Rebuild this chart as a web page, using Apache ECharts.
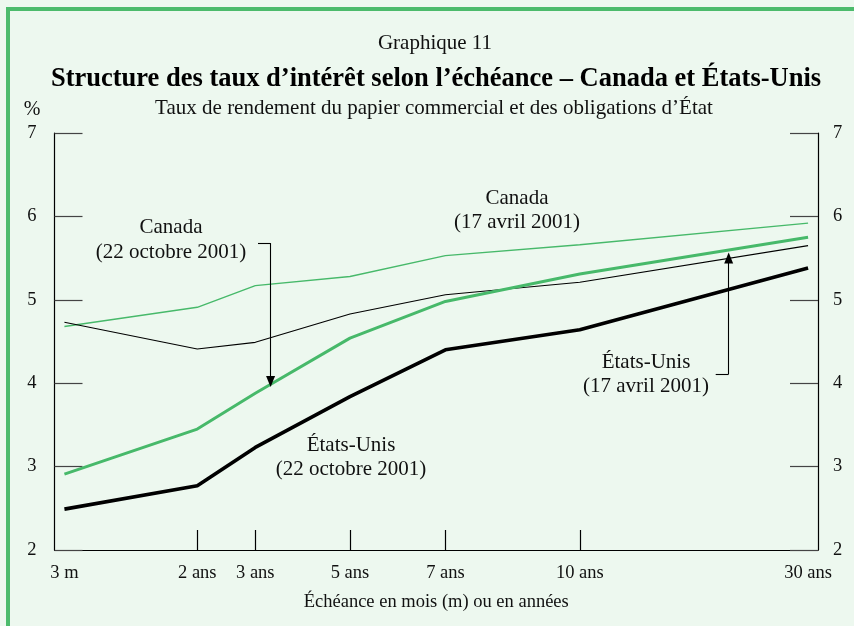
<!DOCTYPE html>
<html>
<head>
<meta charset="utf-8">
<script src="https://cdn.jsdelivr.net/npm/echarts@6/dist/echarts.min.js"></script>
<style>
html,body{margin:0;padding:0;background:#edf8ef;}
#c{width:854px;height:626px;}
</style>
</head>
<body>
<div id="c"></div>
<script>
// Maturities (tick labels) and their position along the horizontal scale (0–100)
var maturities = ['3 m', '2 ans', '3 ans', '5 ans', '7 ans', '10 ans', '30 ans'];
var maturityPos = [1.3, 18.7, 26.3, 38.7, 51.2, 68.8, 98.7];
var tickedPos = [18.7, 26.3, 38.7, 51.2, 68.8];
var yTicks = [2, 3, 4, 5, 6, 7];

// Yields (%)
var canadaApr = [4.68, 4.91, 5.17, 5.28, 5.53, 5.66, 5.92];
var canadaOct = [2.91, 3.45, 3.88, 4.54, 4.98, 5.31, 5.75];
var usApr     = [4.73, 4.41, 4.49, 4.83, 5.06, 5.21, 5.65];
var usOct     = [2.49, 2.77, 3.23, 3.84, 4.40, 4.64, 5.38];

var FONT = '"Liberation Serif", "Times New Roman", serif';
var GREEN = '#47b96a';

function pairs(vals){ return vals.map(function(v,i){ return [maturityPos[i], v]; }); }

var chart = echarts.init(document.getElementById('c'));
chart.setOption({
  animation: false,
  backgroundColor: '#edf8ef',
  textStyle: { fontFamily: FONT, color: '#111' },
  grid: { left: 54.5, right: 36, top: 133, bottom: 76 },
  xAxis: {
    type: 'value', min: 0, max: 100,
    axisLine: { lineStyle: { color: '#000', width: 1.2 } },
    splitLine: { show: false },
    axisTick: { inside: true, length: 20, customValues: tickedPos, lineStyle: { color: '#000', width: 1.2 } },
    axisLabel: {
      customValues: maturityPos, margin: 14, fontSize: 18.5, fontFamily: FONT, color: '#111',
      formatter: function(v){ var i = maturityPos.indexOf(v); return i >= 0 ? maturities[i] : ''; }
    },
    name: 'Échéance en mois (m) ou en années', nameLocation: 'middle', nameGap: 43,
    nameTextStyle: { fontSize: 18.5, fontFamily: FONT, color: '#111' }
  },
  yAxis: [{
    type: 'value', min: 2, max: 7, interval: 1, position: 'left',
    axisLine: { show: true, lineStyle: { color: '#000', width: 1.2 } },
    axisTick: { show: true, inside: true, length: 28, lineStyle: { color: '#444', width: 1.2 } },
    splitLine: { show: false },
    axisLabel: { margin: 18, fontSize: 18.5, fontFamily: FONT, color: '#111' }
  }, {
    type: 'value', min: 2, max: 7, interval: 1, position: 'right',
    axisLine: { show: true, lineStyle: { color: '#000', width: 1.2 } },
    axisTick: { show: true, inside: true, length: 28, lineStyle: { color: '#444', width: 1.2 } },
    splitLine: { show: false },
    axisLabel: { margin: 15, fontSize: 18.5, fontFamily: FONT, color: '#111' }
  }],
  series: [
    { name: 'Canada (17 avril 2001)', type: 'line', data: pairs(canadaApr), showSymbol: false,
      lineStyle: { color: GREEN, width: 1.4 } },
    { name: 'États-Unis (17 avril 2001)', type: 'line', data: pairs(usApr), showSymbol: false,
      lineStyle: { color: '#000', width: 1.1 },
      markLine: {
        silent: true, symbol: ['none', 'none'], symbolSize: [9, 11],
        label: { show: false },
        lineStyle: { color: '#000', width: 1.1, type: 'solid' },
        data: [
          [{ coord: [26.65, 5.68], symbol: 'none' }, { coord: [28.3, 5.68], symbol: 'none' }],
          [{ coord: [28.3, 5.68], symbol: 'none' }, { coord: [28.3, 4.02], symbol: 'triangle' }],
          [{ coord: [86.6, 4.11], symbol: 'none' }, { coord: [88.3, 4.11], symbol: 'none' }],
          [{ coord: [88.3, 4.11], symbol: 'none' }, { coord: [88.3, 5.50], symbol: 'triangle' }]
        ]
      } },
    { name: 'Canada (22 octobre 2001)', type: 'line', data: pairs(canadaOct), showSymbol: false,
      lineStyle: { color: GREEN, width: 3 } },
    { name: 'États-Unis (22 octobre 2001)', type: 'line', data: pairs(usOct), showSymbol: false,
      lineStyle: { color: '#000', width: 3.6 } }
  ],
  graphic: [
    { type: 'rect', shape: { x: 6, y: 7, width: 4, height: 626 }, style: { fill: '#4cbb6c' }, z: 100 },
    { type: 'rect', shape: { x: 6, y: 7, width: 848, height: 4 }, style: { fill: '#4cbb6c' }, z: 100 },
    { type: 'text', x: 435, y: 43, style: { text: 'Graphique 11', font: '21px ' + FONT, fill: '#111', textAlign: 'center', textVerticalAlign: 'middle' } },
    { type: 'text', x: 436, y: 79, style: { text: 'Structure des taux d’intérêt selon l’échéance – Canada et États-Unis', font: 'bold 26.5px ' + FONT, fill: '#000', textAlign: 'center', textVerticalAlign: 'middle' } },
    { type: 'text', x: 434, y: 108, style: { text: 'Taux de rendement du papier commercial et des obligations d’État', font: '21px ' + FONT, fill: '#111', textAlign: 'center', textVerticalAlign: 'middle' } },
    { type: 'text', x: 32, y: 110, style: { text: '%', font: '20px ' + FONT, fill: '#111', textAlign: 'center', textVerticalAlign: 'middle' } },
    { type: 'text', x: 171, y: 240, style: { text: 'Canada\n(22 octobre 2001)', font: '21px ' + FONT, lineHeight: 25, fill: '#111', textAlign: 'center', textVerticalAlign: 'middle' } },
    { type: 'text', x: 517, y: 210, style: { text: 'Canada\n(17 avril 2001)', font: '21px ' + FONT, lineHeight: 24, fill: '#111', textAlign: 'center', textVerticalAlign: 'middle' } },
    { type: 'text', x: 646, y: 374, style: { text: 'États-Unis\n(17 avril 2001)', font: '21px ' + FONT, lineHeight: 24, fill: '#111', textAlign: 'center', textVerticalAlign: 'middle' } },
    { type: 'text', x: 351, y: 457, style: { text: 'États-Unis\n(22 octobre 2001)', font: '21px ' + FONT, lineHeight: 24, fill: '#111', textAlign: 'center', textVerticalAlign: 'middle' } }
  ]
});
</script>
</body>
</html>
